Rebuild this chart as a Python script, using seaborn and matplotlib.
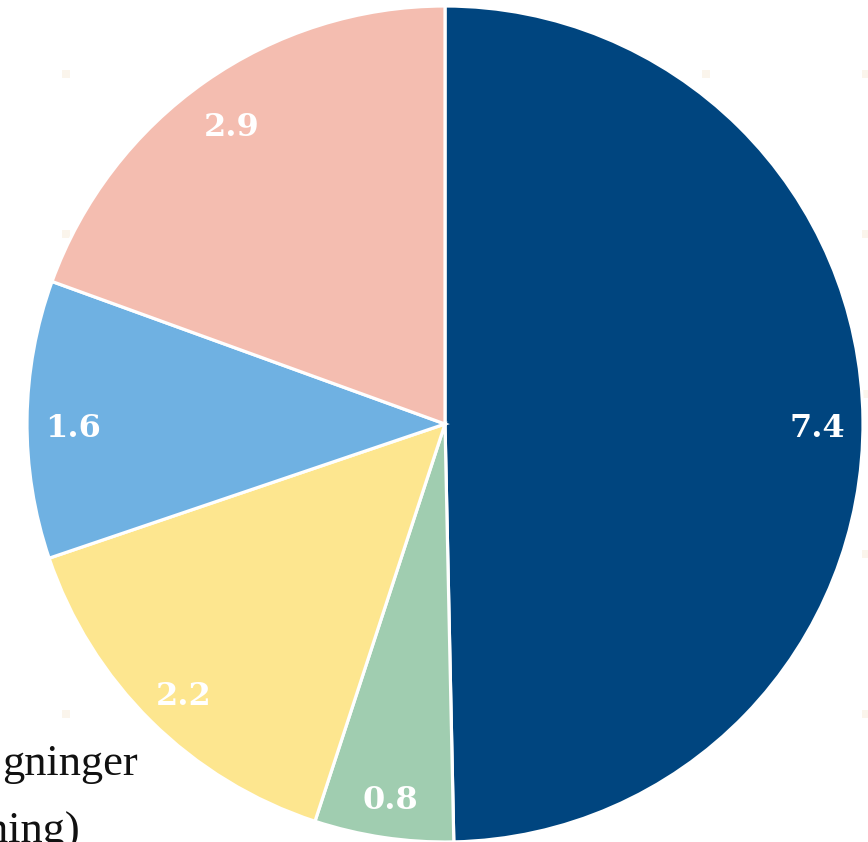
import numpy as np
import matplotlib
matplotlib.use("Agg")
import matplotlib.pyplot as plt
import seaborn as sns

# Slice values, clockwise from 12 o'clock
values = [7.4, 0.8, 2.2, 1.6, 2.9]
slice_colors = ["#00457f", "#a0cdb0", "#fde68f", "#6fb1e2", "#f4bdb0"]
legend_lines = ["gninger", "ning)"]

sns.set_theme(style="white")
plt.rcParams["font.family"] = ["Liberation Serif", "DejaVu Serif"]

W, H = 868, 842
fig = plt.figure(figsize=(W / 100, H / 100), dpi=100)
fig.patch.set_facecolor("white")

# Faint dotted background grid
bg = fig.add_axes([0, 0, 1, 1], zorder=0)
bg.set_xlim(0, W)
bg.set_ylim(H, 0)
bg.axis("off")
gx, gy = np.meshgrid(np.arange(66, W + 10, 160), np.arange(74, H, 160))
bg.scatter(gx.ravel(), gy.ravel(), marker="s", s=26, color="#fbf5ec",
           linewidths=0)

# Pie: radius 418 px centred at (445, 424) from the top-left corner
r = 418
cx, cy = 445, 424
ax = fig.add_axes([(cx - r) / W, (H - cy - r) / H, 2 * r / W, 2 * r / H],
                  zorder=1)
ax.patch.set_alpha(0)
total = sum(values)
wedges, texts, autotexts = ax.pie(
    values,
    colors=sns.color_palette(slice_colors),
    startangle=90,
    counterclock=False,
    radius=1,
    autopct=lambda p: f"{p * total / 100:.1f}",
    pctdistance=0.89,
    wedgeprops=dict(edgecolor="white", linewidth=2.3),
    textprops=dict(color="white", fontsize=23, fontweight="bold",
                   family=["DejaVu Serif"]),
)
for t in autotexts:
    x, y = t.get_position()
    t.set_position((x, y - 0.02))
ax.set_xlim(-1, 1)
ax.set_ylim(-1, 1)
ax.set_aspect("equal")
ax.axis("off")

# Legend text at the lower left
fig.text(138 / W, 1 - 775 / H, legend_lines[0], ha="right", va="baseline",
         fontsize=32, color="#111111")
fig.text(80 / W, 1 - 843 / H, legend_lines[1], ha="right", va="baseline",
         fontsize=32, color="#111111")

fig.savefig("out.png", dpi=100, facecolor="white")
